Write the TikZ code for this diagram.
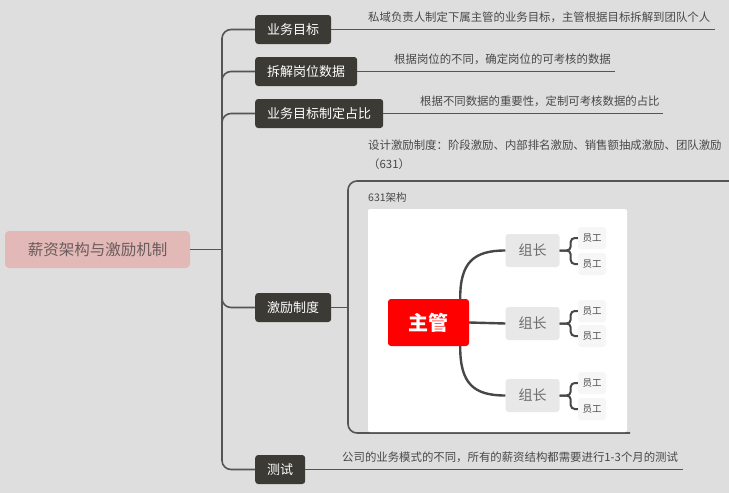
\documentclass[tikz,border=0pt]{standalone}
\usepackage{fontspec}
\setmainfont{Noto Sans CJK SC}
\definecolor{bgcol}{HTML}{DEDEDE}
\definecolor{rootcol}{HTML}{E2B9B7}
\definecolor{roottext}{HTML}{6A5C5C}
\definecolor{branchcol}{HTML}{3B3A34}
\definecolor{linecol}{HTML}{555555}
\definecolor{desccol}{HTML}{484848}
\definecolor{innercol}{HTML}{474747}
\definecolor{groupcol}{HTML}{E8E8E8}
\definecolor{staffcol}{HTML}{F6F6F6}
\tikzset{
  root/.style={fill=rootcol, text=roottext, rounded corners=4, minimum width=185, minimum height=37, font=\fontsize{15.5}{18}\selectfont},
  branch/.style={fill=branchcol, text=white, rounded corners=3, inner xsep=12, minimum height=29, anchor=west, font=\fontsize{13}{15}\selectfont},
  desc/.style={text=desccol, anchor=west, inner sep=0, font=\fontsize{11.4}{19}\selectfont},
  conn/.style={draw=linecol, line width=1.6, rounded corners=9},
  boss/.style={fill=red, text=white, rounded corners=3, minimum width=81, minimum height=47, font=\fontsize{20}{22}\selectfont\bfseries},
  group/.style={fill=groupcol, text=desccol!80, rounded corners=3, minimum width=54, minimum height=33, font=\fontsize{14}{16}\selectfont},
  staff/.style={fill=staffcol, text=desccol, rounded corners=3, minimum width=28, minimum height=22, inner sep=0, font=\fontsize{9.5}{11}\selectfont},
  link/.style={draw=innercol, line width=2.4},
  tie/.style={draw=innercol, line width=2, rounded corners=4}
}
\begin{document}
\begin{tikzpicture} [x = 1pt, y = -1pt]
\fill[bgcol] (0, 0) rectangle (729, 493);
\useasboundingbox (0, 0) rectangle (729, 493);
\node[root] (root) at (97.5, 249.5){薪资架构与激励机制};
\coordinate (trunk) at (222, 249.5);
\node[branch] (b1) at (255, 29.5){业务目标};
\node[branch] (b2) at (255, 71.5){拆解岗位数据};
\node[branch] (b3) at (255, 113.5){业务目标制定占比};
\node[branch] (b4) at (255, 307.5){激励制度};
\node[branch] (b5) at (255, 469.5){测试};
\draw[conn] (root.east) -- (trunk);
\draw[conn] (trunk) |- (b1.west);
\draw[conn] (trunk) |- (b2.west);
\draw[conn] (trunk) |- (b3.west);
\draw[conn] (trunk) |- (b4.west);
\draw[conn] (trunk) |- (b5.west);
\coordinate (e1) at (715, 29.5);
\coordinate (e2) at (615, 71.5);
\coordinate (e3) at (663, 113.5);
\coordinate (e5) at (683, 469.5);
\draw[conn] (b1.east) -- (e1);
\draw[conn] (b2.east) -- (e2);
\draw[conn] (b3.east) -- (e3);
\draw[conn] (b5.east) -- (e5);
\node[desc] (d1) at (368, 17){私域负责人制定下属主管的业务目标，主管根据目标拆解到团队个人};
\node[desc] (d2) at (394, 59){根据岗位的不同，确定岗位的可考核的数据};
\node[desc] (d3) at (420, 101){根据不同数据的重要性，定制可考核数据的占比};
\node[desc, anchor=north west, align=left] (d4) at (368, 140){设计激励制度：阶段激励、内部排名激励、销售额抽成激励、团队激励\\（631）};
\node[desc] (d5) at (342, 457){公司的业务模式的不同，所有的薪资结构都需要进行1-3个月的测试};
\coordinate (brk) at (348, 307.5);
\coordinate (t4) at (729, 181);
\coordinate (u4) at (630, 433);
\draw[conn] (b4.east) -- (brk);
\draw[conn] (t4) -| (brk) |- (u4);
\node[desc, font=\fontsize{10.5}{12}\selectfont] (lbl) at (368, 198){631架构};
\fill[white, rounded corners=2] (368, 209) rectangle (627, 432);
\node[boss] (boss) at (428.5, 322.5){主管};
\node[group] (g1) at (532.5, 250.5){组长};
\node[group] (g2) at (532.5, 323.5){组长};
\node[group] (g3) at (532.5, 395.5){组长};
\draw[link] ([xshift=-9pt]boss.north east) .. controls (460, 262) and (474, 250.5) .. (g1.west);
\draw[link] (boss.east) -- (g2.west);
\draw[link] ([xshift=-9pt]boss.south east) .. controls (460, 384) and (474, 395.5) .. (g3.west);
\node[staff] (s11) at (592, 238){员工};
\node[staff] (s12) at (592, 264){员工};
\node[staff] (s21) at (592, 311){员工};
\node[staff] (s22) at (592, 336){员工};
\node[staff] (s31) at (592, 383){员工};
\node[staff] (s32) at (592, 409){员工};
\draw[tie] (g1.east) -- ++(11, 0) |- (s11.west);
\draw[tie] (g1.east) -- ++(11, 0) |- (s12.west);
\draw[tie] (g2.east) -- ++(11, 0) |- (s21.west);
\draw[tie] (g2.east) -- ++(11, 0) |- (s22.west);
\draw[tie] (g3.east) -- ++(11, 0) |- (s31.west);
\draw[tie] (g3.east) -- ++(11, 0) |- (s32.west);
\end{tikzpicture}
\end{document}
